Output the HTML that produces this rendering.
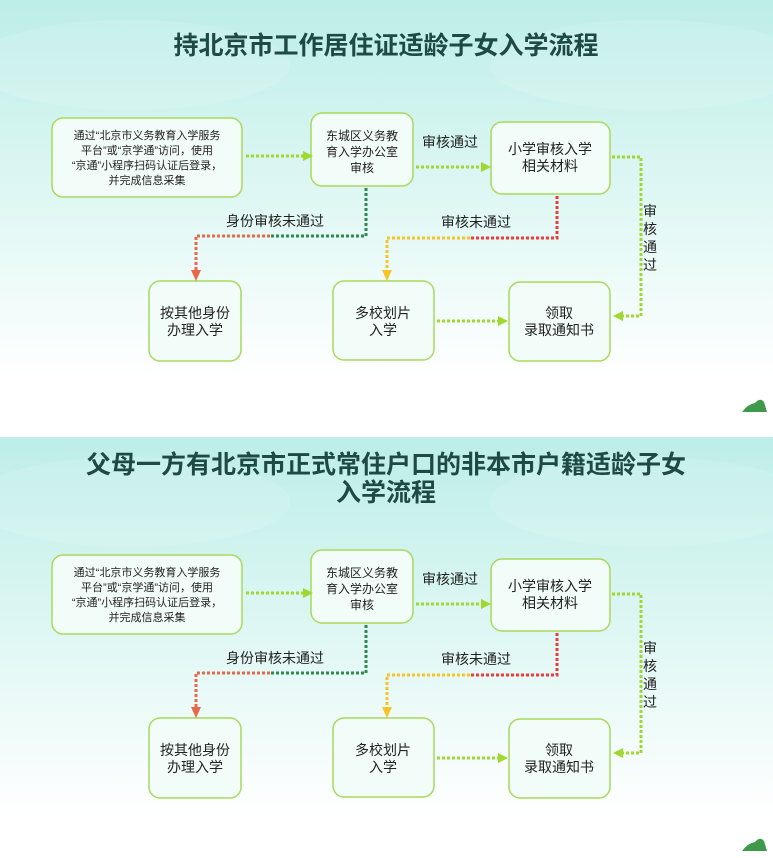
<!DOCTYPE html>
<html><head><meta charset="utf-8"><style>
html,body{margin:0;padding:0;width:773px;height:858px;overflow:hidden;background:#fff}
svg text{font-family:"Liberation Sans","Noto Sans CJK SC",sans-serif;fill:#222}
</style></head><body>
<svg width="773" height="858" viewBox="0 0 773 858" xmlns="http://www.w3.org/2000/svg">
<defs>
<linearGradient id="bg" x1="0" y1="0" x2="0" y2="1">
<stop offset="0" stop-color="#bdeee7"/><stop offset="0.5" stop-color="#e2f8f5"/><stop offset="0.88" stop-color="#ffffff"/><stop offset="1" stop-color="#ffffff"/>
</linearGradient>
<g id="panel">
<rect x="0" y="0" width="773" height="430" fill="url(#bg)"/>
<ellipse cx="130" cy="65" rx="160" ry="45" fill="#fff" opacity="0.12"/>
<ellipse cx="650" cy="65" rx="160" ry="45" fill="#fff" opacity="0.12"/>
<g fill="#f2fcf8" stroke="#a8da5c" stroke-width="1.5">
<rect x="52" y="118" width="190" height="79" rx="11"/>
<rect x="311" y="113" width="102" height="73" rx="11"/>
<rect x="491" y="122" width="119" height="72" rx="11"/>
<rect x="149" y="281" width="92" height="80" rx="11"/>
<rect x="333" y="281" width="101" height="79" rx="11"/>
<rect x="509" y="282" width="101" height="79" rx="11"/>
</g>
<g font-size="11" text-anchor="middle">
<text x="147" y="139">通过“北京市义务教育入学服务</text>
<text x="147" y="154">平台”或“京学通”访问，使用</text>
<text x="147" y="169">“京通”小程序扫码认证后登录，</text>
<text x="147" y="184">并完成信息采集</text>
<text x="362" y="140" font-size="12">东城区义务教</text>
<text x="362" y="156" font-size="12">育入学办公室</text>
<text x="362" y="172" font-size="12">审核</text>
</g>
<g font-size="14" text-anchor="middle">
<text x="550" y="154">小学审核入学</text>
<text x="550" y="171">相关材料</text>
<text x="195" y="318">按其他身份</text>
<text x="195" y="335">办理入学</text>
<text x="383" y="318">多校划片</text>
<text x="383" y="335">入学</text>
<text x="559" y="318">领取</text>
<text x="559" y="335">录取通知书</text>
<text x="450" y="147">审核通过</text>
<text x="275" y="226">身份审核未通过</text>
<text x="476" y="227">审核未通过</text>
<text x="650" y="216">审</text>
<text x="650" y="234">核</text>
<text x="650" y="252">通</text>
<text x="650" y="270">过</text>
</g>
<g fill="none" stroke-width="3" stroke-dasharray="3 2">
<path d="M246 156 H306" stroke="#9fd82e"/>
<path d="M416 167 H484" stroke="#9fd82e"/>
<path d="M612 157 H641 V316 H622" stroke="#9fd82e"/>
<path d="M437 321 H500" stroke="#9fd82e"/>
<path d="M366 188 V236 H270" stroke="#2e8a4e"/>
<path d="M270 236 H196 V272" stroke="#e8694a"/>
<path d="M557 196 V238 H470" stroke="#ee3a3a"/>
<path d="M470 238 H387 V272" stroke="#f4c524"/>
</g>
<g>
<polygon points="313,156 303,151 303,161" fill="#9fd82e"/>
<polygon points="491,167 481,162 481,172" fill="#9fd82e"/>
<polygon points="613,316 623,311 623,321" fill="#9fd82e"/>
<polygon points="508,321 498,316 498,326" fill="#9fd82e"/>
<polygon points="196,281 191,270 201,270" fill="#e8694a"/>
<polygon points="387,281 382,270 392,270" fill="#f4c524"/>
</g>
</g>
</defs>
<use href="#panel" x="0" y="0"/>
<use href="#panel" x="0" y="437"/>
<path d="M742 412 Q748 404 755 403 Q760 397 764 402 L767 412 Z" fill="#3e9a4a"/>
<path d="M742 851 Q748 843 755 842 Q760 836 764 841 L767 851 Z" fill="#3e9a4a"/>
<g font-weight="bold" text-anchor="middle" font-size="25">
<text x="386" y="54" style="fill:#1e4a44">持北京市工作居住证适龄子女入学流程</text>
<text x="386" y="473" style="fill:#1e4a44">父母一方有北京市正式常住户口的非本市户籍适龄子女</text>
<text x="386" y="501" style="fill:#1e4a44">入学流程</text>
</g>
</svg>
</body></html>
